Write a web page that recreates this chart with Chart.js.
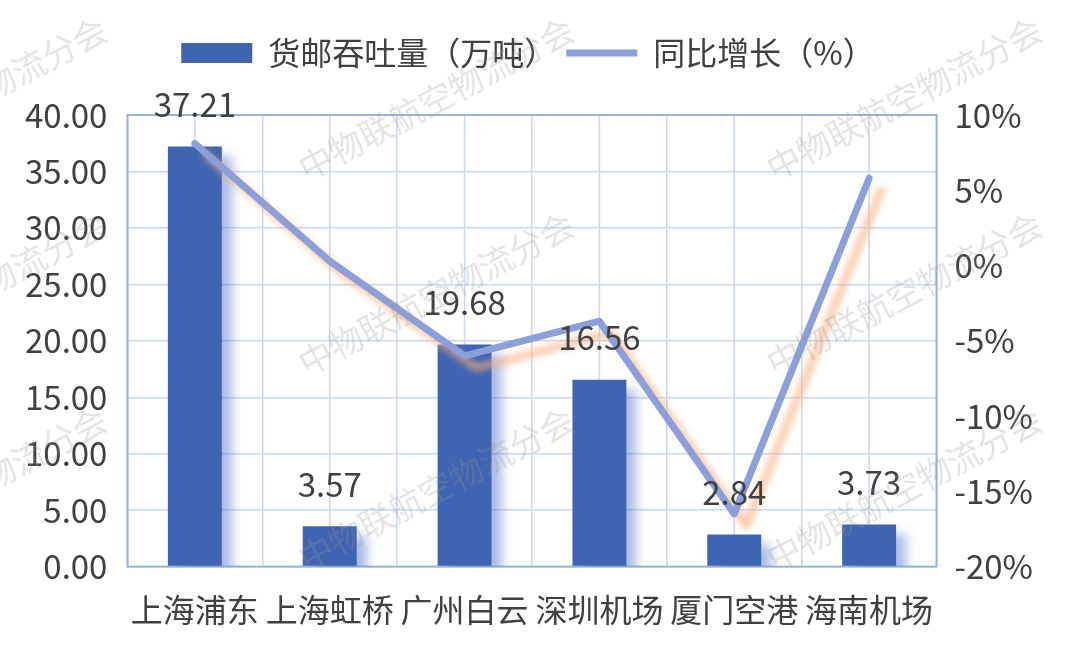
<!DOCTYPE html>
<html>
<head>
<meta charset="utf-8">
<script src="https://cdn.jsdelivr.net/npm/chart.js@4.4.1/dist/chart.umd.min.js"></script>
<style>
  html, body { margin: 0; padding: 0; background: #fff; }
  #wrap { width: 1080px; height: 658px; }
</style>
</head>
<body>
<div id="wrap"><canvas id="chart"></canvas></div>
<script>
const categories = ['上海浦东', '上海虹桥', '广州白云', '深圳机场', '厦门空港', '海南机场'];
const throughput = [37.21, 3.57, 19.68, 16.56, 2.84, 3.73];
const growth = [8.1, 0.3, -6.0, -3.7, -16.5, 5.8];
const barLabel = '货邮吞吐量（万吨）';
const lineLabel = '同比增长（%）';
const watermark = '中物联航空物流分会';

const FONT = '"Noto Sans CJK SC", "Noto Sans", sans-serif';
const TEXT = '#404040';
const BAR = '#3f64b1';
const LINE = '#8c9fd9';

// 图例下方留白
const legendMargin = {
  id: 'legendMargin',
  beforeInit(chart) {
    const fit = chart.legend.fit;
    chart.legend.fit = function () {
      fit.bind(chart.legend)();
      this.height += 36;
    };
  }
};

// 阴影：柱子蓝色，折线橙色
const shadows = {
  id: 'shadows',
  beforeDatasetDraw(chart, args) {
    const ctx = chart.ctx;
    ctx.save();
    if (args.meta.type === 'bar') {
      ctx.shadowColor = 'rgba(90,120,205,0.5)';
      ctx.shadowOffsetX = 10;
      ctx.shadowOffsetY = 10;
      ctx.shadowBlur = 10;
    } else {
      ctx.shadowColor = 'rgba(245,175,125,0.75)';
      ctx.shadowOffsetX = 12;
      ctx.shadowOffsetY = 12;
      ctx.shadowBlur = 7;
    }
  },
  afterDatasetDraw(chart) {
    chart.ctx.restore();
  }
};

// 网格：类别中心的竖线 + 外框
const frame = {
  id: 'frame',
  beforeDatasetsDraw(chart) {
    const { ctx, chartArea: a, scales } = chart;
    ctx.save();
    ctx.strokeStyle = '#c9d7f0';
    ctx.lineWidth = 1.5;
    categories.forEach((c, i) => {
      const x = scales.x.getPixelForTick(i);
      ctx.beginPath();
      ctx.moveTo(x, a.top);
      ctx.lineTo(x, a.bottom);
      ctx.stroke();
    });
    ctx.strokeStyle = '#9db1e0';
    ctx.lineWidth = 2;
    ctx.strokeRect(a.left, a.top, a.right - a.left, a.bottom - a.top);
    ctx.restore();
  }
};

// 柱顶数值
const barValues = {
  id: 'barValues',
  afterDatasetsDraw(chart) {
    const ctx = chart.ctx;
    const meta = chart.getDatasetMeta(1);
    ctx.save();
    ctx.font = '33px ' + FONT;
    ctx.fillStyle = TEXT;
    ctx.textAlign = 'center';
    ctx.textBaseline = 'middle';
    meta.data.forEach((bar, i) => {
      ctx.fillText(throughput[i].toFixed(2), bar.x, bar.y - 42);
    });
    ctx.restore();
  }
};

// 水印
const mark = {
  id: 'mark',
  afterDraw(chart) {
    const ctx = chart.ctx;
    ctx.save();
    ctx.font = '34px ' + FONT;
    ctx.fillStyle = 'rgba(150,150,150,0.26)';
    ctx.textBaseline = 'alphabetic';
    [-160, 307, 775].forEach(x0 => {
      [182, 377, 572].forEach(y0 => {
        ctx.save();
        ctx.translate(x0, y0);
        ctx.rotate(-28 * Math.PI / 180);
        ctx.fillText(watermark, 0, 0);
        ctx.restore();
      });
    });
    ctx.restore();
  }
};

const ctx = document.getElementById('chart').getContext('2d');
new Chart(ctx, {
  data: {
    labels: categories,
    datasets: [
      {
        type: 'line',
        label: lineLabel,
        data: growth,
        yAxisID: 'y1',
        borderColor: LINE,
        backgroundColor: LINE,
        borderWidth: 7,
        pointRadius: 0,
        tension: 0,
        borderCapStyle: 'round',
        borderJoinStyle: 'round'
      },
      {
        type: 'bar',
        label: barLabel,
        data: throughput,
        yAxisID: 'y',
        backgroundColor: BAR,
        categoryPercentage: 1,
        barPercentage: 0.4
      }
    ]
  },
  options: {
    responsive: true,
    maintainAspectRatio: false,
    animation: false,
    layout: { padding: { left: 5, right: 29, top: 27, bottom: 5 } },
    plugins: {
      tooltip: { enabled: false },
      legend: {
        position: 'top',
        labels: {
          usePointStyle: true,
          pointStyleWidth: 71,
          boxHeight: 20,
          padding: 10,
          color: TEXT,
          font: { size: 32, family: FONT },
          generateLabels() {
            return [
              { text: barLabel, datasetIndex: 1, pointStyle: 'rect', fillStyle: BAR, strokeStyle: BAR, lineWidth: 0, fontColor: TEXT },
              { text: lineLabel, datasetIndex: 0, pointStyle: 'line', fillStyle: LINE, strokeStyle: LINE, lineWidth: 7, fontColor: TEXT }
            ];
          }
        }
      }
    },
    scales: {
      x: {
        offset: true,
        grid: { color: '#c9d7f0', lineWidth: 1.5, drawTicks: false },
        border: { display: false },
        ticks: { color: TEXT, padding: 24, font: { size: 32, family: FONT }, maxRotation: 0 }
      },
      y: {
        position: 'left',
        min: 0,
        max: 40,
        grid: { color: '#c9d7f0', lineWidth: 1.5, drawTicks: false },
        border: { display: false },
        ticks: {
          stepSize: 5,
          color: TEXT,
          padding: 20,
          font: { size: 33, family: FONT },
          callback: v => v.toFixed(2)
        }
      },
      y1: {
        position: 'right',
        min: -20,
        max: 10,
        grid: { drawOnChartArea: false, drawTicks: false },
        border: { display: false },
        ticks: {
          stepSize: 5,
          color: TEXT,
          padding: 18,
          font: { size: 33, family: FONT },
          callback: v => v + '%'
        }
      }
    }
  },
  plugins: [legendMargin, frame, shadows, barValues, mark]
});
</script>
</body>
</html>
